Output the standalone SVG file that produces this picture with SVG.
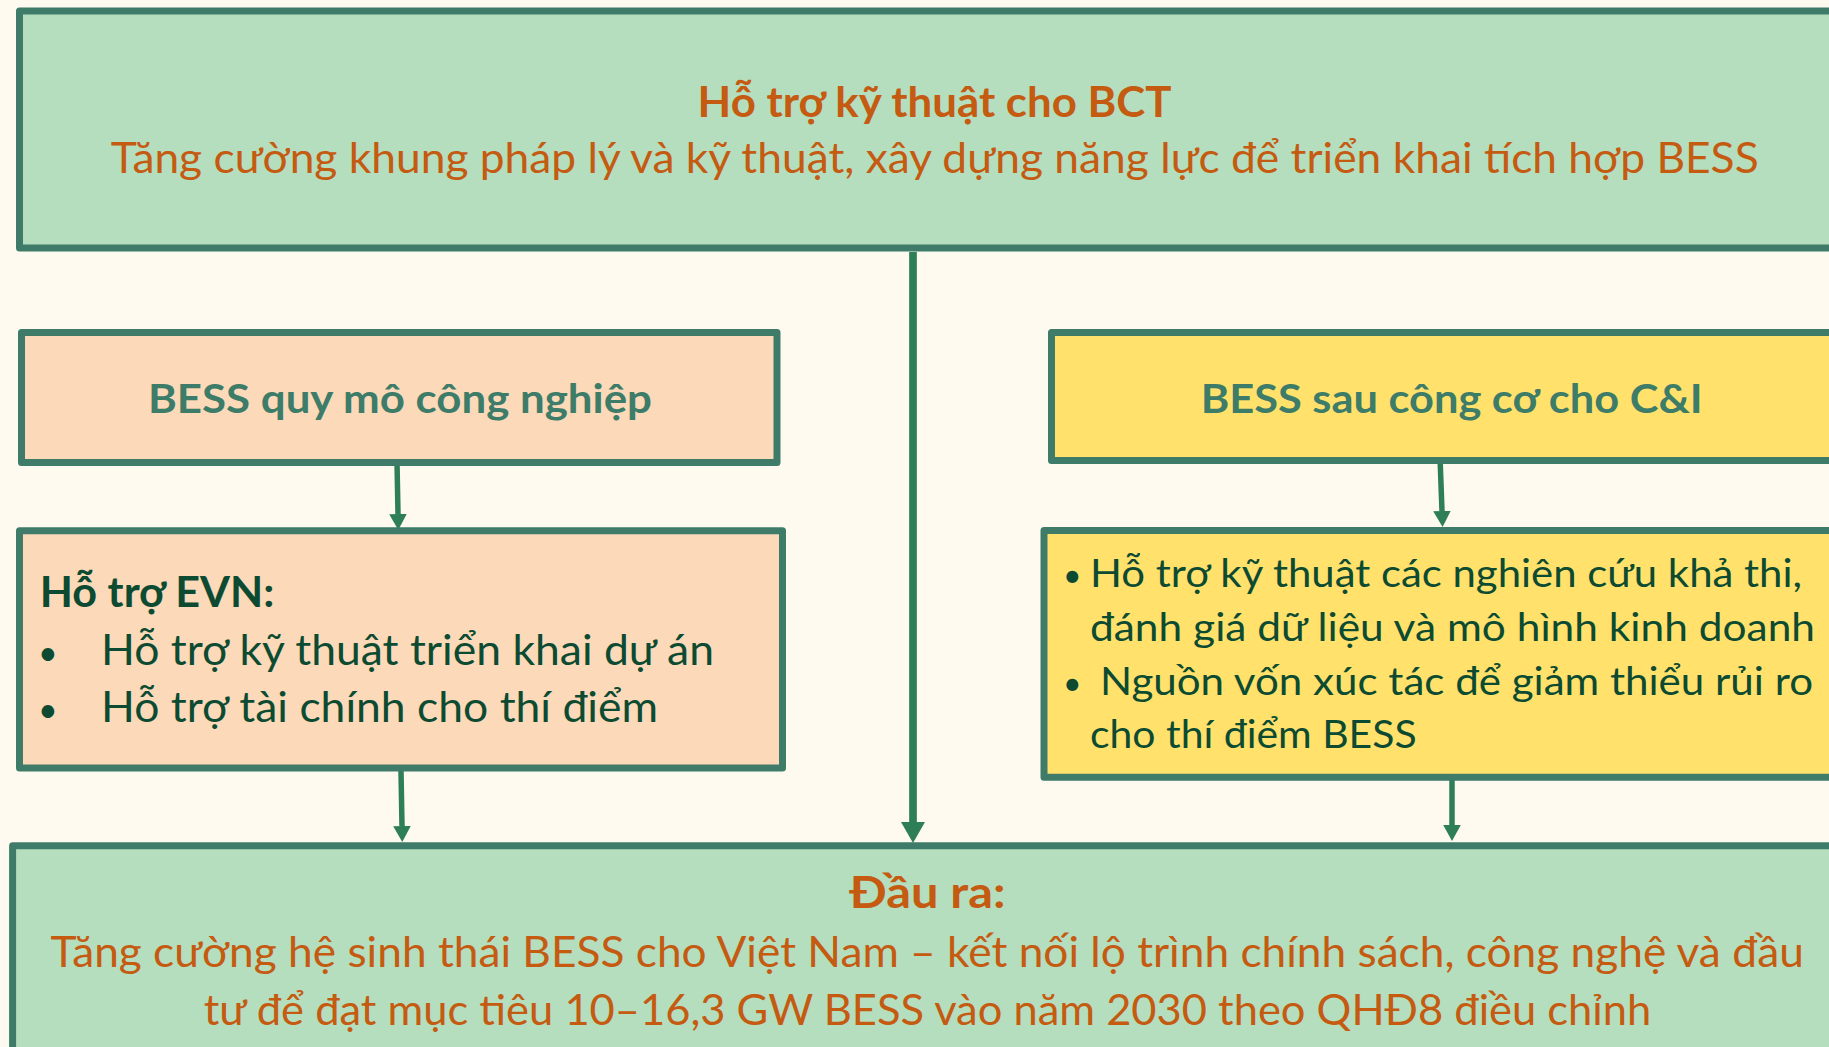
<svg xmlns="http://www.w3.org/2000/svg" width="1829" height="1047" viewBox="0 0 1829 1047">
  <style>
    .box { stroke: #3E7B69; stroke-width: 7; stroke-linejoin: round; }
    .green { fill: #B4DEBE; }
    .peach { fill: #FCD9B8; }
    .yellow { fill: #FFE16B; }
    .t { font-family: Lato, "Open Sans", "Noto Sans", sans-serif; }
    .orange { fill: #C55A11; }
    .teal { fill: #3D7C68; font-weight: bold; }
    .dark { fill: #0C4B31; }
    .b { font-weight: bold; }
    .conn { stroke: #2E7F57; fill: none; }
  </style>
  <defs>
    <marker id="headS" viewBox="0 0 16 17.6" refX="0" refY="8.8" markerWidth="16" markerHeight="17.6" markerUnits="userSpaceOnUse" orient="auto">
      <path d="M0,0 L16,8.8 L0,17.6 z" fill="#2E7F57"/>
    </marker>
    <marker id="headL" viewBox="0 0 21 24" refX="0" refY="12" markerWidth="21" markerHeight="24" markerUnits="userSpaceOnUse" orient="auto">
      <path d="M0,0 L21,12 L0,24 z" fill="#2E7F57"/>
    </marker>
  </defs>
  <rect width="1829" height="1047" fill="#FFFAF0"/>

  <g id="connectors">
    <line class="conn" x1="913" y1="252" x2="913" y2="822" stroke-width="7.7" marker-end="url(#headL)"/>
    <line class="conn" x1="397" y1="462" x2="398" y2="514" stroke-width="5.5" marker-end="url(#headS)"/>
    <line class="conn" x1="401" y1="771" x2="402" y2="826" stroke-width="5.5" marker-end="url(#headS)"/>
    <line class="conn" x1="1440" y1="457" x2="1442" y2="511" stroke-width="5.5" marker-end="url(#headS)"/>
    <line class="conn" x1="1452" y1="771" x2="1452" y2="825" stroke-width="5.5" marker-end="url(#headS)"/>
  </g>

  <g id="node-bct">
    <rect class="box green" x="19.5" y="11" width="1832" height="237"/>
    <text class="t orange b" x="697.6" y="117" font-size="42.5" textLength="474" lengthAdjust="spacingAndGlyphs">Hỗ trợ kỹ thuật cho BCT</text>
    <text class="t orange" x="110.7" y="173.3" font-size="43" textLength="1648" lengthAdjust="spacingAndGlyphs">Tăng cường khung pháp lý và kỹ thuật, xây dựng năng lực để triển khai tích hợp BESS</text>
  </g>

  <g id="node-industrial">
    <rect class="box peach" x="21.5" y="332.5" width="755.5" height="130"/>
    <text class="t teal" x="148" y="412.7" font-size="40.5" textLength="504" lengthAdjust="spacingAndGlyphs">BESS quy mô công nghiệp</text>
  </g>

  <g id="node-evn">
    <rect class="box peach" x="19.5" y="530.8" width="763" height="237.3"/>
    <text class="t dark b" x="39.8" y="607" font-size="41.5" textLength="234.6" lengthAdjust="spacingAndGlyphs">Hỗ trợ EVN:</text>
    <text class="t dark" x="38" y="665" font-size="34">•</text>
    <text class="t dark" x="101" y="665" font-size="43" textLength="613" lengthAdjust="spacingAndGlyphs">Hỗ trợ kỹ thuật triển khai dự án</text>
    <text class="t dark" x="38" y="721.7" font-size="34">•</text>
    <text class="t dark" x="101" y="721.7" font-size="43" textLength="557" lengthAdjust="spacingAndGlyphs">Hỗ trợ tài chính cho thí điểm</text>
  </g>

  <g id="node-ci">
    <rect class="box yellow" x="1051.5" y="332.5" width="800.5" height="128"/>
    <text class="t teal" x="1200.7" y="412.7" font-size="40.5" textLength="502" lengthAdjust="spacingAndGlyphs">BESS sau công cơ cho C&amp;I</text>
  </g>

  <g id="node-ci-support">
    <rect class="box yellow" x="1044" y="530.5" width="808" height="246.7"/>
    <text class="t dark" x="1063" y="586.7" font-size="32">•</text>
    <text class="t dark" x="1090" y="586.7" font-size="38" textLength="712" lengthAdjust="spacingAndGlyphs">Hỗ trợ kỹ thuật các nghiên cứu khả thi,</text>
    <text class="t dark" x="1090" y="640.7" font-size="38" textLength="725" lengthAdjust="spacingAndGlyphs">đánh giá dữ liệu và mô hình kinh doanh</text>
    <text class="t dark" x="1063" y="695" font-size="32">•</text>
    <text class="t dark" x="1100" y="695" font-size="38" textLength="713" lengthAdjust="spacingAndGlyphs">Nguồn vốn xúc tác để giảm thiểu rủi ro</text>
    <text class="t dark" x="1090" y="748.3" font-size="38" textLength="326.6" lengthAdjust="spacingAndGlyphs">cho thí điểm BESS</text>
  </g>

  <g id="node-output">
    <rect class="box green" x="12.6" y="845.8" width="1829.4" height="250"/>
    <text class="t orange b" x="849.2" y="908.3" font-size="44" textLength="156.3" lengthAdjust="spacingAndGlyphs">Đầu ra:</text>
    <text class="t orange" x="50.5" y="966.7" font-size="43" textLength="1753.5" lengthAdjust="spacingAndGlyphs">Tăng cường hệ sinh thái BESS cho Việt Nam – kết nối lộ trình chính sách, công nghệ và đầu</text>
    <text class="t orange" x="203.8" y="1025" font-size="43" textLength="1447.5" lengthAdjust="spacingAndGlyphs">tư để đạt mục tiêu 10–16,3 GW BESS vào năm 2030 theo QHĐ8 điều chỉnh</text>
  </g>
</svg>
